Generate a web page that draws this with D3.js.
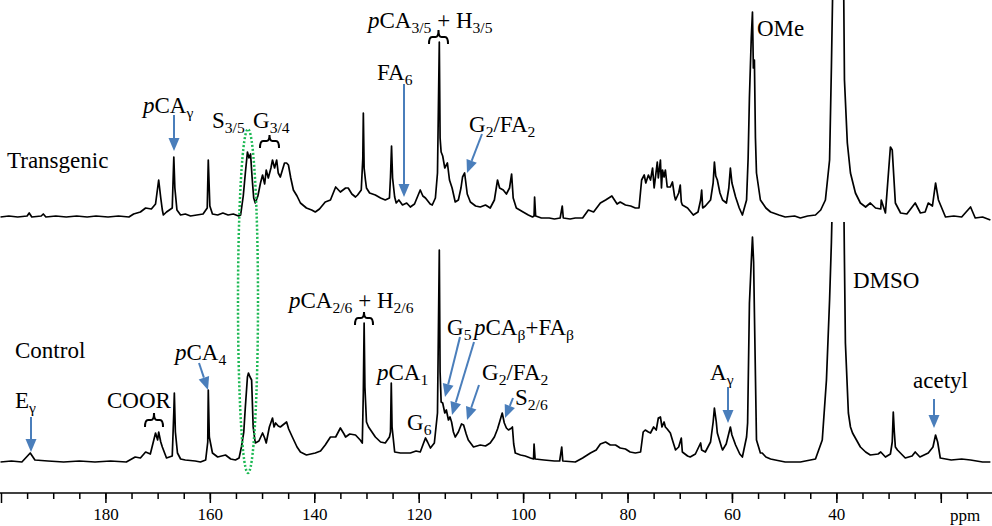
<!DOCTYPE html>
<html>
<head>
<meta charset="utf-8">
<script src="https://cdn.jsdelivr.net/npm/d3@7/dist/d3.min.js"></script>
<style>
  html, body { margin: 0; padding: 0; background: #fff; }
  svg text { font-family: "Liberation Serif", "Times New Roman", Times, serif; fill: #000; }
</style>
</head>
<body>
<svg class="chart"></svg>
<script>
// 13C spectra, [ppm, intensity]
var transgenicSpec = [
  [200.1,1],[198.5,2],[196.8,1],[195,2],[194.6,5],[194.1,1],[192.3,2],[191.9,4],[191.4,1],[189.5,2],[187.5,1],[185.5,2],
  [183.5,1],[181.8,2],[179.5,1],[177.5,2],[175.5,1],[174.6,4],[173.3,6],[172.3,10],[171.2,9],[170.4,14],[169.8,38],
  [169.4,20],[169.1,8],[168.9,3],[168.3,6],[167.2,10],[166.9,61],[166.7,30],[166.3,8],[165.6,3],[164.7,4],[163.7,2],
  [162.5,3],[161.3,4],[160.5,10],[160.3,58],[160.0,12],[159.5,4],[158.5,3],[157.5,5],[156.5,3],[155.5,4],[154.5,2],
  [154.1,3],[153.6,22],[153.2,45],[152.8,66],[152.5,60],[152.2,64],[151.9,40],[151.6,20],[151.3,15],[150.8,22],[150.3,35],
  [149.9,43],[149.5,34],[149.2,48],[148.8,40],[148.3,50],[148.0,58],[147.6,50],[147.2,58],[146.9,45],[146.5,41],[146.1,48],
  [145.7,55],[145.3,55],[144.95,53],[144.5,40],[144.0,28],[143.3,22],[142.65,15],[141.5,10],[140.5,8],[139.8,6],[139.0,9],
  [137.9,16],[136.9,18],[135.9,31],[135.0,26],[134.0,30],[133.5,30],[132.8,24],[132.1,21],[131.7,23],[131.0,28],[130.7,60],
  [130.6,105],[130.45,50],[130.2,38],[130.0,30],[129.4,25],[128.3,23],[127.3,20],[126.4,18],[125.6,20],[125.4,41],[125.2,72],
  [125.0,40],[124.6,21],[124.3,15],[123.8,18],[123.1,13],[122.3,15],[121.6,11],[120.8,14],[119.7,28],[119.2,22],[118.7,20],
  [117.8,14],[117.4,13],[116.8,20],[116.4,45],[116.05,176],[115.9,80],[115.7,66],[115.4,62],[115.0,50],[114.5,55],[114.1,38],
  [113.6,30],[113.0,16],[112.4,18],[111.9,30],[111.6,41],[111.2,45],[110.7,24],[110.1,16],[109.1,12],[108.2,11],[107.2,13],
  [106.3,10],[105.5,18],[104.9,38],[104.5,30],[103.8,28],[103.2,24],[102.6,30],[102.2,44],[101.9,20],[101.3,10],[100.0,6],
  [99.0,3],[98.2,1],[97.9,2],[97.8,21],[97.6,2],[96.5,0],[95.0,0],[94.0,-1],[92.9,0],[92.5,12],[92.3,0],[91,-1],[90,0],
  [88.6,0],[87.5,8],[86.5,6],[85.2,15],[84.2,18],[83.0,22],[82.0,14],[81.4,16],[80.4,13],[79.4,12],[78.5,10],[77.8,10],
  [77.3,38],[76.8,43],[76.5,35],[76.0,43],[75.6,38],[75.2,50],[74.9,30],[74.3,56],[74.1,40],[73.7,58],[73.5,30],[73.3,48],
  [73.0,41],[72.75,48],[72.4,31],[71.8,31],[71.4,36],[71.0,22],[70.8,18],[70.2,25],[69.9,33],[69.7,16],[69.5,13],[68.5,10],
  [67.4,3],[66.5,6],[66.0,18],[65.8,28],[65.6,10],[65.1,12],[64.1,18],[63.6,35],[63.36,56],[63.1,42],[62.8,38],[62.3,25],
  [61.8,18],[61.06,15],[60.6,30],[60.3,50],[60.0,35],[59.3,21],[58.6,10],[58.0,3],[57.2,18],[56.9,60],[56.65,121],[56.3,180],
  [56.07,206],[55.9,150],[55.7,158],[55.5,80],[55.3,45],[54.55,18],[53.5,10],[52.6,6],[51.0,3],[49.8,1],[48,2],[46.9,0],
  [45.5,2],[44.0,3],[43.0,8],[42.1,18],[41.3,58],[40.95,151],[40.6,260],[39.6,340],[38.65,260],[38.45,138],[37.9,75],
  [37.3,45],[36.35,25],[35.4,15],[34.4,11],[33.5,15],[32.5,10],[31.5,9],[31.4,18],[30.6,5],[29.65,71],[29.3,68],[28.7,15],
  [27.7,5],[26.5,4],[24.9,15],[23.9,5],[23.0,6],[22.4,15],[21.6,12],[21.0,35],[20.45,18],[19.1,1],[17.5,2],[16,1],
  [14.3,11],[13.4,0],[12,1],[10.5,-2]
];

var controlSpec = [
  [200.1,0],[198,1],[196,0],[194.4,9],[193.5,2],[191,1],[188,0],[185,1],[182,0],[179,1],[176,0],[174.3,5],[173.3,4],
  [172.3,10],[171.4,8],[170.4,29],[170.0,22],[169.8,30],[169.4,20],[169.1,15],[168.3,4],[167.2,6],[166.9,50],[166.8,69],
  [166.6,30],[166.2,9],[165.6,3],[164.7,2],[162.8,1],[161.8,0],[160.8,2],[160.4,20],[160.3,72],[160.1,25],[159.5,9],
  [158.5,5],[157.0,7],[156.0,3],[155.1,2],[154.4,4],[153.95,15],[153.5,30],[153.2,55],[152.8,85],[152.6,89],[152.3,85],
  [152.0,82],[151.7,35],[151.3,19],[150.6,21],[149.9,29],[149.5,24],[149.2,19],[148.6,35],[148.0,44],[147.7,35],[147.4,39],
  [146.9,36],[146.5,35],[145.3,40],[144.9,33],[144.2,25],[143.3,15],[142.65,10],[141.5,7],[139.8,9],[138.8,11],[137.9,17],
  [136.9,25],[135.9,25],[135.0,34],[134.3,28],[134.0,25],[133.2,28],[132.1,27],[131.2,22],[130.8,19],[130.6,70],[130.45,139],
  [130.3,75],[130.0,40],[129.6,35],[128.3,25],[127.3,20],[126.4,19],[125.6,25],[125.4,30],[125.25,79],[125.1,35],[124.6,10],
  [123.5,9],[121.6,9],[120.5,11],[119.7,10],[118.7,24],[118.3,20],[117.75,14],[117.0,19],[116.4,49],[116.05,212],[115.9,90],
  [115.7,60],[115.4,59],[115.0,49],[114.7,52],[114.3,42],[114.0,45],[113.7,40],[113.35,30],[113.0,25],[112.4,30],[111.8,38],
  [111.4,37],[110.9,28],[110.5,22],[109.5,15],[108.2,17],[107.2,16],[106.3,19],[105.5,25],[104.9,33],[104.5,40],[104.0,49],
  [103.6,39],[103.2,34],[102.8,32],[102.2,34],[102.05,35],[101.8,18],[101.5,9],[100.5,7],[99.6,6],[98.6,4],[98.0,3],
  [97.9,18],[97.7,3],[96,2],[94,1],[93,1],[92.6,15],[92.4,1],[90,0],[88.6,4],[87.1,9],[86.0,12],[85.2,18],[84.2,20],
  [83.3,17],[82.3,17],[81.4,14],[80.4,13],[79.5,10],[78.5,9],[77.5,10],[77.0,30],[76.6,32],[76.0,30],[75.6,29],[75.0,35],
  [74.5,32],[74.1,44],[73.7,45],[73.4,35],[73.0,40],[72.75,35],[72.4,33],[71.8,29],[71.4,22],[70.8,12],[70.2,15],[69.7,24],
  [69.5,10],[68.5,6],[68.0,5],[67.0,8],[66.0,19],[65.8,12],[65.1,10],[64.1,20],[63.6,40],[63.36,54],[63.0,40],[62.8,29],
  [62.0,15],[61.8,12],[61.1,18],[60.3,35],[60.0,27],[59.3,17],[58.5,8],[58.0,5],[57.2,25],[57.0,39],[56.65,159],[56.3,200],
  [56.07,225],[55.85,200],[55.7,150],[55.3,22],[54.55,9],[54.2,9],[53.5,5],[52.6,3],[51.7,2],[49.8,0],[46.9,0],[44.0,3],
  [42.7,22],[41.9,82],[41.3,162],[40.95,220],[40.6,300],[39.6,400],[38.65,300],[38.45,200],[38.27,119],[37.7,49],[37.3,35],
  [36.9,29],[35.4,15],[34.4,10],[33.5,7],[32,8],[31.5,10],[30.6,5],[29.65,8],[29.3,20],[29.1,50],[28.9,30],[28.7,15],
  [28.3,12],[26.8,4],[25.5,6],[24.9,10],[24,5],[22.4,9],[21.5,15],[21.0,27],[20.6,20],[20.1,4],[18,2],[16,3],[14.3,2],
  [12,0],[10.5,0]
];

var majorTicks = [200, 180, 160, 140, 120, 100, 80, 60, 40, 20];
var tickLabels = [180, 160, 140, 120, 100, 80, 60, 40];
var minorTicks = d3.range(195, 10, -5);

var W = 992, H = 526;
var serif = '"Liberation Serif", "Times New Roman", Times, serif';

var svg = d3.select('.chart')
    .attr('width', W)
    .attr('height', H)
    .attr('font-family', serif);

var x = d3.scaleLinear().domain([200, 10]).range([1, 993]);
var yT = d3.scaleLinear().domain([0, 100]).range([218, 118]);
var yC = d3.scaleLinear().domain([0, 100]).range([462, 362]);

svg.append('clipPath').attr('id', 'clipC')
    .append('rect').attr('x', 0).attr('y', 222).attr('width', W).attr('height', 260);

// spectra
svg.append('path')
    .datum(transgenicSpec)
    .attr('fill', 'none')
    .attr('stroke', '#000')
    .attr('stroke-width', 1.7)
    .attr('stroke-linejoin', 'round')
    .attr('d', d3.line().x(function (d) { return x(d[0]); }).y(function (d) { return yT(d[1]); }));

svg.append('path')
    .datum(controlSpec)
    .attr('clip-path', 'url(#clipC)')
    .attr('fill', 'none')
    .attr('stroke', '#000')
    .attr('stroke-width', 1.7)
    .attr('stroke-linejoin', 'round')
    .attr('d', d3.line().x(function (d) { return x(d[0]); }).y(function (d) { return yC(d[1]); }));

// axis
var axisY = 493;
var minorAxis = d3.axisBottom(x).tickValues(minorTicks).tickSize(6).tickSizeOuter(0).tickFormat('');
var majorAxis = d3.axisBottom(x).tickValues(majorTicks).tickSize(10).tickSizeOuter(0)
    .tickFormat(function (d) { return tickLabels.indexOf(d) >= 0 ? d : ''; });

var gMinor = svg.append('g').attr('transform', 'translate(0,' + axisY + ')').call(minorAxis);
var gMajor = svg.append('g').attr('transform', 'translate(0,' + axisY + ')').call(majorAxis);
gMinor.select('.domain').remove();
gMajor.select('.domain').attr('d', 'M0,0H' + W);
[gMinor, gMajor].forEach(function (g) {
    g.attr('font-family', serif);
    g.selectAll('line').attr('stroke', '#000').attr('stroke-width', 1.5);
    g.selectAll('path').attr('stroke', '#000').attr('stroke-width', 1.5);
});
gMajor.selectAll('text')
    .attr('font-family', serif)
    .attr('font-size', 17)
    .attr('fill', '#000')
    .attr('y', 15)
    .attr('dy', '0.71em');

svg.append('text').attr('x', 950).attr('y', 521).attr('font-size', 17).text('ppm');

// labels: segments [text, style] where style: 'i' italic, 's' subscript
function label(px, py, segs, size) {
    size = size || 23;
    var t = svg.append('text').attr('x', px).attr('y', py).attr('font-size', size).attr('font-family', serif);
    var down = false;
    segs.forEach(function (s) {
        var sp = t.append('tspan').text(s[0]);
        if (s[1] === 'i') sp.attr('font-style', 'italic');
        if (s[1] === 's') {
            sp.attr('font-size', size * 0.68);
            if (!down) { sp.attr('dy', 5); down = true; }
        } else if (down) {
            sp.attr('dy', -5); down = false;
        }
    });
    return t;
}

label(7, 168, [['Transgenic']]);
label(15, 358, [['Control']]);
label(143, 113, [['p', 'i'], ['CA'], ['\u03b3', 's']]);
label(212, 128, [['S'], ['3/5', 's']]);
label(253, 128, [['G'], ['3/4', 's']]);
label(377, 80, [['FA'], ['6', 's']]);
label(368, 28, [['p', 'i'], ['CA'], ['3/5', 's'], [' + H'], ['3/5', 's']]);
label(469, 132, [['G'], ['2', 's'], ['/FA'], ['2', 's']]);
label(757, 36, [['OMe']]);
label(853, 288, [['DMSO']]);
label(289, 308, [['p', 'i'], ['CA'], ['2/6', 's'], [' + H'], ['2/6', 's']]);
label(377, 380, [['p', 'i'], ['CA'], ['1', 's']]);
label(407, 430, [['G'], ['6', 's']]);
label(447, 335, [['G'], ['5', 's']]);
label(474, 335, [['p', 'i'], ['CA'], ['\u03b2', 's'], ['+FA'], ['\u03b2', 's']]);
label(482, 380, [['G'], ['2', 's'], ['/FA'], ['2', 's']]);
label(515, 405, [['S'], ['2/6', 's']]);
label(175, 360, [['p', 'i'], ['CA'], ['4', 's']]);
label(15, 408, [['E'], ['\u03b3', 's']]);
label(107, 408, [['COOR']]);
label(710, 380, [['A'], ['\u03b3', 's']]);
label(913, 388, [['acetyl']]);

// arrows
var arrowColor = '#4a7ebb';
function arrow(x1, y1, x2, y2) {
    var a = Math.atan2(y2 - y1, x2 - x1), len = 13, half = 5.5;
    var bx = x2 - len * Math.cos(a), by = y2 - len * Math.sin(a);
    svg.append('line').attr('x1', x1).attr('y1', y1).attr('x2', bx).attr('y2', by)
        .attr('stroke', arrowColor).attr('stroke-width', 2);
    var px = -Math.sin(a), py = Math.cos(a);
    svg.append('path')
        .attr('d', 'M' + x2 + ',' + y2 + 'L' + (bx + px * half) + ',' + (by + py * half) +
                   'L' + (bx - px * half) + ',' + (by - py * half) + 'Z')
        .attr('fill', arrowColor);
}
arrow(174, 115, 174, 151);
arrow(404, 84, 404, 197);
arrow(482, 134, 467, 173);
arrow(31, 417, 31, 452);
arrow(199, 363, 208, 390);
arrow(460, 337, 445, 397);
arrow(474, 342, 452, 415);
arrow(479, 385, 467, 420);
arrow(513, 398, 505, 418);
arrow(728, 387, 728, 423);
arrow(934, 399, 934, 428);

// braces
function brace(x1, x2, yTop, yEnd, yTip) {
    var xm = (x1 + x2) / 2;
    var d = 'M' + x1 + ',' + yEnd + 'Q' + x1 + ',' + yTop + ' ' + (x1 + 3) + ',' + yTop +
            'L' + (xm - 3) + ',' + yTop + 'Q' + xm + ',' + yTop + ' ' + xm + ',' + yTip +
            'Q' + xm + ',' + yTop + ' ' + (xm + 3) + ',' + yTop +
            'L' + (x2 - 3) + ',' + yTop + 'Q' + x2 + ',' + yTop + ' ' + x2 + ',' + yEnd;
    svg.append('path').attr('d', d).attr('fill', 'none').attr('stroke', '#000').attr('stroke-width', 2);
}
brace(260, 279, 141, 148, 135);
brace(429, 448, 37, 44, 30);
brace(355, 373, 318, 325, 312);
brace(145, 163, 420, 427, 413);

// highlight ellipse
svg.append('ellipse')
    .attr('cx', 248).attr('cy', 301).attr('rx', 10).attr('ry', 172)
    .attr('fill', 'none')
    .attr('stroke', '#1db954')
    .attr('stroke-width', 2.5)
    .attr('stroke-dasharray', '2,2');
</script>
</body>
</html>
